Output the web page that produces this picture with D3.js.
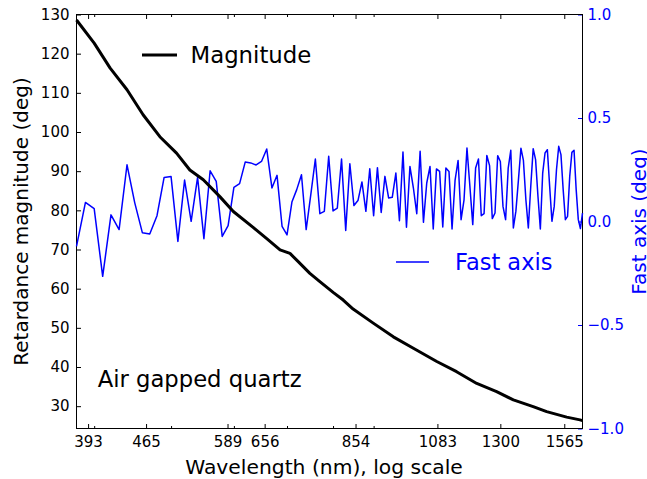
<!DOCTYPE html>
<html>
<head>
<meta charset="utf-8">
<script src="https://d3js.org/d3.v7.min.js"></script>
<style>
    body { margin: 0; background: white; }
    text { font-family: "DejaVu Sans", sans-serif; }
</style>
</head>
<body>
<script>
// wavelength grid for the fast axis trace (nm)
var wavelengths = [
    380, 390, 400, 410, 420, 430, 440, 450, 460, 470,
    480, 490, 500, 510, 520, 530, 540, 550, 560, 570,
    580, 590, 600, 610, 620, 630, 640, 650, 660, 670,
    680, 690, 700, 710, 720, 730, 740, 750, 760, 770,
    780, 790, 800, 810, 820, 830, 840, 850, 860, 870,
    880, 890, 900, 910, 920, 930, 940, 950, 960, 970,
    980, 990, 1000, 1010, 1020, 1030, 1040, 1050, 1060, 1070,
    1080, 1090, 1100, 1110, 1120, 1130, 1140, 1150, 1160, 1170,
    1180, 1190, 1200, 1210, 1220, 1230, 1240, 1250, 1260, 1270,
    1280, 1290, 1300, 1310, 1320, 1330, 1340, 1350, 1360, 1370,
    1380, 1390, 1400, 1410, 1420, 1430, 1440, 1450, 1460, 1470,
    1480, 1490, 1500, 1510, 1520, 1530, 1540, 1550, 1560, 1570,
    1580, 1590, 1600, 1610, 1620, 1630, 1640, 1650
];

// fast axis (deg), right axis
var fastAxis = [
    -0.12, 0.092, 0.062, -0.265, 0.032, -0.039, 0.274, 0.09, -0.054, -0.06,
    0.028, 0.213, 0.217, -0.096, 0.2, 0.001, 0.213, -0.083, 0.245, 0.194,
    -0.072, -0.02, 0.165, 0.183, 0.287, 0.283, 0.273, 0.29, 0.35, 0.162,
    0.223, -0.023, -0.065, 0.094, 0.154, 0.226, -0.039, 0.13, 0.302, 0.038,
    0.049, 0.315, 0.051, 0.065, 0.302, -0.043, 0.279, 0.077, 0.101, 0.191,
    0.049, 0.255, 0.028, 0.26, 0.044, 0.218, 0.114, 0.117, 0.234, 0.004,
    0.336, -0.028, 0.266, 0.163, 0.038, 0.339, -0.004, 0.186, 0.266, -0.036,
    0.254, 0.242, -0.026, 0.258, 0.242, -0.036, 0.2, 0.295, 0.009, 0.105,
    0.355, 0.17, -0.015, 0.258, 0.302, 0.028, 0.038, 0.319, 0.27, 0.014,
    0.041, 0.318, 0.29, 0.073, 0.009, 0.258, 0.344, -0.031, 0.05, 0.2,
    0.354, 0.295, 0.105, -0.031, 0.17, 0.352, 0.299, 0.121, -0.036, 0.234,
    0.331, 0.347, 0.17, 0.001, 0.073, 0.25, 0.363, 0.323, 0.154, 0.009,
    0.025, 0.218, 0.334, 0.344, 0.154, 0.009, -0.034, 0.04
];

// retardance magnitude (deg), left axis
var magWavelengths = [380, 400, 419, 440, 461, 484, 508, 528, 549, 576, 599, 635,
    660, 686, 706, 720, 748, 770, 801, 824, 848, 899, 953, 1010, 1081, 1145,
    1214, 1286, 1350, 1430, 1487, 1576, 1638, 1650];
var magnitude = [128.6, 122.7, 116.3, 110.8, 104.4, 98.8, 94.6, 90.3, 87.8, 83.5, 79.7, 75.6,
    72.8, 69.9, 69.0, 67.3, 63.9, 61.8, 59.0, 57.1, 54.8, 51.2, 47.7, 44.8, 41.4, 38.8,
    35.8, 33.7, 31.6, 29.9, 28.6, 27.2, 26.5, 26.3];

var xTicks = [393, 465, 589, 656, 854, 1083, 1300, 1565];
var xMinorTicks = [400, 500, 600, 700, 800, 900];
var leftTicks = [30, 40, 50, 60, 70, 80, 90, 100, 110, 120, 130];
var rightTicks = [-1.0, -0.5, 0.0, 0.5, 1.0];

var width = 647, height = 479;
var plotL = 76.5, plotR = 582.5, plotT = 14.5, plotB = 428.5;
var blue = "#0000ff";

var svg = d3.select("body").append("svg")
    .attr("width", width)
    .attr("height", height);

var x = d3.scaleLog().domain([380, 1650]).range([plotL, plotR]);
var yL = d3.scaleLinear().domain([24.3, 130]).range([plotB, plotT]);
var yR = d3.scaleLinear().domain([-1, 1]).range([plotB, plotT]);

function fmtR(d) {
    return d3.format(".1f")(d).replace("-", "\u2212");
}

// bottom axis
svg.append("g").attr("transform", "translate(0," + plotB + ")")
    .call(d3.axisBottom(x).tickValues(xTicks).tickFormat(d3.format("d"))
        .tickSize(-4.5).tickPadding(8));
svg.append("g").attr("transform", "translate(0," + plotB + ")")
    .call(d3.axisBottom(x).tickValues(xMinorTicks).tickFormat("").tickSize(-2.5));
// top axis, ticks only
svg.append("g").attr("transform", "translate(0," + plotT + ")")
    .call(d3.axisTop(x).tickValues(xTicks).tickFormat("").tickSize(-4.5));
svg.append("g").attr("transform", "translate(0," + plotT + ")")
    .call(d3.axisTop(x).tickValues(xMinorTicks).tickFormat("").tickSize(-2.5));

// left axis
svg.append("g").attr("transform", "translate(" + plotL + ",0)")
    .call(d3.axisLeft(yL).tickValues(leftTicks).tickFormat(d3.format("d"))
        .tickSize(-4.5).tickPadding(7));

// right axis
var gr = svg.append("g").attr("transform", "translate(" + plotR + ",0)")
    .call(d3.axisRight(yR).tickValues(rightTicks).tickFormat(fmtR)
        .tickSize(-4.5).tickPadding(5));
gr.selectAll(".tick line").attr("stroke", blue);
gr.selectAll(".tick text").attr("fill", blue);

svg.selectAll(".domain").remove();
svg.selectAll(".tick text").attr("font-size", 15).attr("font-family", "DejaVu Sans, sans-serif");

// frame
svg.append("rect")
    .attr("x", plotL).attr("y", plotT)
    .attr("width", plotR - plotL).attr("height", plotB - plotT)
    .attr("fill", "none").attr("stroke", "black").attr("stroke-width", 1);

// lines
var magLine = d3.line()
    .x(function(d, i) { return x(magWavelengths[i]); })
    .y(function(d) { return yL(d); });
var fastLine = d3.line()
    .x(function(d, i) { return x(wavelengths[i]); })
    .y(function(d) { return yR(d); });

svg.append("path").datum(fastAxis)
    .attr("d", fastLine)
    .attr("fill", "none").attr("stroke", blue).attr("stroke-width", 1.5)
    .attr("stroke-linejoin", "round");

svg.append("path").datum(magnitude)
    .attr("d", magLine)
    .attr("fill", "none").attr("stroke", "black").attr("stroke-width", 3)
    .attr("stroke-linejoin", "round");

// legends
svg.append("line").attr("x1", 142).attr("x2", 177).attr("y1", 55).attr("y2", 55)
    .attr("stroke", "black").attr("stroke-width", 3);
svg.append("text").attr("x", 190.5).attr("y", 63.3)
    .attr("font-size", 22.8).text("Magnitude");

svg.append("line").attr("x1", 396).attr("x2", 429).attr("y1", 262).attr("y2", 262)
    .attr("stroke", blue).attr("stroke-width", 1.5);
svg.append("text").attr("x", 455).attr("y", 270)
    .attr("font-size", 22.5).attr("fill", blue).text("Fast axis");

svg.append("text").attr("x", 97.7).attr("y", 387.3)
    .attr("font-size", 22.7).text("Air gapped quartz");

// axis titles
svg.append("text")
    .attr("x", 324).attr("y", 474)
    .attr("text-anchor", "middle").attr("font-size", 20.3)
    .text("Wavelength (nm), log scale");

svg.append("text")
    .attr("transform", "translate(28," + (plotT + plotB) / 2 + ") rotate(-90)")
    .attr("text-anchor", "middle").attr("font-size", 20)
    .text("Retardance magnitude (deg)");

svg.append("text")
    .attr("transform", "translate(645.5," + (plotT + plotB) / 2 + ") rotate(-90)")
    .attr("text-anchor", "middle").attr("font-size", 20).attr("fill", blue)
    .text("Fast axis (deg)");
</script>
</body>
</html>
